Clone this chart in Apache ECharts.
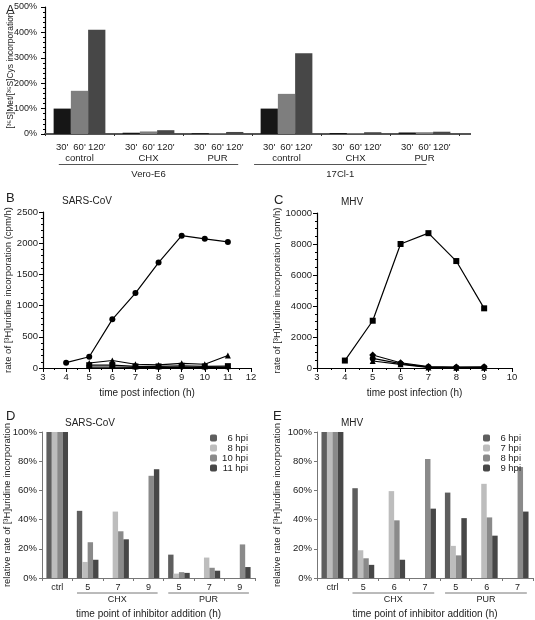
<!DOCTYPE html>
<html><head><meta charset="utf-8">
<script src="https://cdn.jsdelivr.net/npm/echarts@6/dist/echarts.min.js"></script>
<style>html,body{margin:0;padding:0;background:#fff}#c{width:535px;height:620px}</style>
</head><body><div id="c"></div>
<script>
// ---------- Panel A ----------
const aGroups = ['control','CHX','PUR','control','CHX','PUR'];
const aTimes = ["30'","60'","120'"];
const a30  = [100, 5, 3, 100, 4, 6];
const a60  = [170, 10, 3, 158, 3, 7];
const a120 = [410, 15, 8, 318, 7, 9];
const aCells = ['Vero-E6','17Cl-1'];

// ---------- Panel B (SARS-CoV) ----------
const bTime  = [4,5,6,7,8,9,10,11];
const bMain  = [85,180,780,1200,1690,2120,2070,2020];
const bTime2 = [5,6,7,8,9,10,11];
const bTri   = [80,120,60,50,75,60,200];
const bSq    = [45,45,25,25,35,25,30];
const bDia   = [15,15,10,10,10,10,10];

// ---------- Panel C (MHV) ----------
const cTime  = [4,5,6,7,8,9];
const cMain  = [480,3050,8000,8700,6900,3850];
const cTime2 = [5,6,7,8,9];
const cDia   = [840,340,90,60,80];
const cTri   = [450,240,40,20,20];
const cCirc  = [620,280,60,40,50];

// ---------- Panel D (SARS-CoV) ----------
const dCats  = ['ctrl','5','7','9','5','7','9'];
const dNames = ['6 hpi','8 hpi','10 hpi','11 hpi'];
const d6  = [100,46,0,0,16,0,0];
const d8  = [100,11,45.5,0,3,14,0];
const d10 = [100,24.5,32,70,4,7,23];
const d11 = [100,12.5,26.5,74.5,3.5,5,7.5];

// ---------- Panel E (MHV) ----------
const eCats  = ['ctrl','5','6','7','5','6','7'];
const eNames = ['6 hpi','7 hpi','8 hpi','9 hpi'];
const e6 = [100,61.5,0,0,58.5,0,0];
const e7 = [100,19,59.5,0,22,64.5,0];
const e8 = [100,13.5,39.5,81.5,15.5,41.5,76];
const e9 = [100,9,12.5,47.5,41,29,45.5];

const inhGroups = ['CHX','PUR'];

const FF = 'Liberation Sans, Arial, sans-serif';
const TXT = '#222';
const chart = echarts.init(document.getElementById('c'));

const lab = {fontFamily:FF, fontSize:9.5, color:TXT};
function valAxis(grid, min, max, interval, fmt, name, gap, minor, nfs){
  return {type:'value', gridIndex:grid, min, max, interval,
    axisLine:{show:true, lineStyle:{color:'#000', width:1.2}},
    axisTick:{show:true, length:4, lineStyle:{color:'#000'}},
    minorTick:{show:!!minor, splitNumber:minor||5, length:2, lineStyle:{color:'#000'}},
    splitLine:{show:false},
    axisLabel:Object.assign({formatter:fmt, margin:5}, lab),
    name, nameLocation:'middle', nameGap:gap, nameRotate:90, nameMoveOverlap:false,
    nameTextStyle:{fontFamily:FF, fontSize:nfs||9.5, color:TXT}};
}
const numFmt = v => String(v);
const dColors = ['#5e5e5e','#bdbdbd','#8a8a8a','#474747'];
const eColors = ['#5e5e5e','#bdbdbd','#8a8a8a','#474747'];

const lineCommon = {type:'line', symbolSize:6, showSymbol:true,
  lineStyle:{color:'#000', width:1.2}, itemStyle:{color:'#000'}};
const tStyle = (s)=>({fontSize:s, fontWeight:'normal', color:TXT, fontFamily:FF});
const legText = {fontFamily:FF, fontSize:9.5, color:TXT, rich:{r:{width:26, align:'right', lineHeight:11, fontFamily:FF, fontSize:9.5, color:TXT}}};

const yA = valAxis(0,0,500,100,'{value}%','[³⁵S]Met/[³⁵S]Cys incorporation',30,5,8.5);
yA.axisLabel.margin = 8;
yA.axisLabel.fontSize = 9;

const option = {
  animation:false,
  backgroundColor:'#fff',
  textStyle:{fontFamily:FF},
  title:[
    {text:'A', left:1, top:-1, textStyle:tStyle(13)},
    {text:'B', left:1, top:187, textStyle:tStyle(13)},
    {text:'C', left:269, top:189, textStyle:tStyle(13)},
    {text:'D', left:1, top:405, textStyle:tStyle(13)},
    {text:'E', left:268, top:405, textStyle:tStyle(13)},
    {text:'SARS-CoV', left:57, top:191, textStyle:tStyle(10)},
    {text:'MHV', left:336, top:192, textStyle:tStyle(10)},
    {text:'SARS-CoV', left:60, top:413, textStyle:tStyle(10)},
    {text:'MHV', left:336, top:413, textStyle:tStyle(10)}
  ],
  legend:[
    {data:dNames, orient:'vertical', left:205, top:428, itemWidth:7, itemHeight:7, itemGap:0,
     formatter:n=>'{r|'+n+'}', textStyle:legText, selectedMode:false},
    {data:eNames.map(n=>n+' '), orient:'vertical', left:478, top:428, itemWidth:7, itemHeight:7, itemGap:0,
     formatter:n=>'{r|'+n.trim()+'}', textStyle:legText, selectedMode:false}
  ],
  grid:[
    {left:45, top:7, width:414, height:127, outerBoundsMode:'none'},
    {left:43, top:212, width:208, height:156, outerBoundsMode:'none'},
    {left:317, top:213, width:195, height:155, outerBoundsMode:'none'},
    {left:42, top:432, width:213, height:146, outerBoundsMode:'none'},
    {left:317, top:432, width:216, height:146, outerBoundsMode:'none'}
  ],
  xAxis:[
    {type:'category', gridIndex:0, data:aGroups,
      axisLine:{lineStyle:{color:'#555', width:2}},
      axisTick:{show:true, length:2, lineStyle:{color:'#333'}},
      axisLabel:{interval:0, margin:8, fontFamily:FF, color:TXT,
        formatter:v=>aTimes.map(t=>'{t|'+t+'}').join('')+'\n{g|'+v+'}',
        rich:{t:{width:17.3, align:'center', fontSize:9.5, color:TXT, fontFamily:FF},
              g:{fontSize:9.5, color:TXT, fontFamily:FF, lineHeight:13}}}},
    {type:'value', gridIndex:1, min:3, max:12, interval:1,
      axisLine:{lineStyle:{color:'#000', width:1.2}},
      axisTick:{length:4, lineStyle:{color:'#000'}},
      minorTick:{show:true, splitNumber:2, length:2, lineStyle:{color:'#000'}},
      splitLine:{show:false}, axisLabel:Object.assign({margin:4, formatter:numFmt}, lab),
      name:'time post infection (h)', nameLocation:'middle', nameGap:20, nameMoveOverlap:false,
      nameTextStyle:{fontFamily:FF, fontSize:10, color:TXT}},
    {type:'value', gridIndex:2, min:3, max:10, interval:1,
      axisLine:{lineStyle:{color:'#000', width:1.2}},
      axisTick:{length:4, lineStyle:{color:'#000'}},
      minorTick:{show:true, splitNumber:2, length:2, lineStyle:{color:'#000'}},
      splitLine:{show:false}, axisLabel:Object.assign({margin:4, formatter:numFmt}, lab),
      name:'time post infection (h)', nameLocation:'middle', nameGap:20, nameMoveOverlap:false,
      nameTextStyle:{fontFamily:FF, fontSize:10, color:TXT}},
    {type:'category', gridIndex:3, data:dCats,
      axisLine:{lineStyle:{color:'#777', width:1}},
      axisTick:{show:true, length:3, lineStyle:{color:'#777'}},
      axisLabel:Object.assign({interval:0, margin:5}, lab, {fontSize:9})},
    {type:'category', gridIndex:4, data:eCats,
      axisLine:{lineStyle:{color:'#777', width:1}},
      axisTick:{show:true, length:3, lineStyle:{color:'#777'}},
      axisLabel:Object.assign({interval:0, margin:5}, lab, {fontSize:9})}
  ],
  yAxis:[
    yA,
    valAxis(1,0,2500,500,numFmt,'rate of [³H]uridine incorporation (cpm/h)',30,5),
    valAxis(2,0,10000,2000,numFmt,'rate of [³H]uridine incorporation (cpm/h)',35,4),
    Object.assign(valAxis(3,0,100,20,'{value}%','relative rate of [³H]uridine incorporation',30),
      {axisLine:{show:true,lineStyle:{color:'#777'}}, axisTick:{show:true,length:3,lineStyle:{color:'#777'}}}),
    Object.assign(valAxis(4,0,100,20,'{value}%','relative rate of [³H]uridine incorporation',35),
      {axisLine:{show:true,lineStyle:{color:'#777'}}, axisTick:{show:true,length:3,lineStyle:{color:'#777'}}})
  ],
  series:[
    {type:'bar', name:aTimes[0], xAxisIndex:0, yAxisIndex:0, data:a30, barGap:'0%', barCategoryGap:'25%', itemStyle:{color:'#161616'}},
    {type:'bar', name:aTimes[1], xAxisIndex:0, yAxisIndex:0, data:a60, barGap:'0%', barCategoryGap:'25%', itemStyle:{color:'#7e7e7e'}},
    {type:'bar', name:aTimes[2], xAxisIndex:0, yAxisIndex:0, data:a120, barGap:'0%', barCategoryGap:'25%', itemStyle:{color:'#474747'}},

    Object.assign({}, lineCommon, {name:'b-main', xAxisIndex:1, yAxisIndex:1, symbol:'circle', data:bTime.map((t,i)=>[t,bMain[i]])}),
    Object.assign({}, lineCommon, {name:'b-tri', xAxisIndex:1, yAxisIndex:1, symbol:'triangle', data:bTime2.map((t,i)=>[t,bTri[i]])}),
    Object.assign({}, lineCommon, {name:'b-sq', xAxisIndex:1, yAxisIndex:1, symbol:'rect', data:bTime2.map((t,i)=>[t,bSq[i]])}),
    Object.assign({}, lineCommon, {name:'b-dia', xAxisIndex:1, yAxisIndex:1, symbol:'diamond', data:bTime2.map((t,i)=>[t,bDia[i]])}),

    Object.assign({}, lineCommon, {name:'c-main', xAxisIndex:2, yAxisIndex:2, symbol:'rect', data:cTime.map((t,i)=>[t,cMain[i]])}),
    Object.assign({}, lineCommon, {name:'c-dia', xAxisIndex:2, yAxisIndex:2, symbol:'diamond', symbolSize:7, data:cTime2.map((t,i)=>[t,cDia[i]])}),
    Object.assign({}, lineCommon, {name:'c-tri', xAxisIndex:2, yAxisIndex:2, symbol:'triangle', data:cTime2.map((t,i)=>[t,cTri[i]])}),
    Object.assign({}, lineCommon, {name:'c-circ', xAxisIndex:2, yAxisIndex:2, symbol:'circle', data:cTime2.map((t,i)=>[t,cCirc[i]])}),

    ...[d6,d8,d10,d11].map((d,k)=>({type:'bar', name:dNames[k], xAxisIndex:3, yAxisIndex:3, data:d,
      barGap:'0%', barCategoryGap:'29%', itemStyle:{color:dColors[k]}})),
    ...[e6,e7,e8,e9].map((d,k)=>({type:'bar', name:eNames[k]+' ', xAxisIndex:4, yAxisIndex:4, data:d,
      barGap:'0%', barCategoryGap:'29%', itemStyle:{color:eColors[k]}}))
  ]
};
chart.setOption(option);

// group brackets computed from the axes
function cx(axis, idx){ return chart.convertToPixel({xAxisIndex:axis}, idx); }
const g = [];
function bracket(x1, x2, y, text, ty, color, fs){
  g.push({type:'line', shape:{x1, y1:y, x2, y2:y}, style:{stroke:color, lineWidth:1}, silent:true});
  g.push({type:'text', x:(x1+x2)/2, y:ty, style:{text, fill:TXT, font:fs+'px '+FF, textAlign:'center', textVerticalAlign:'middle'}, silent:true});
}
// Panel A
const aw = cx(0,1)-cx(0,0);
const aEnd = cx(0,5)+aw/2;
const aY0 = chart.convertToPixel({yAxisIndex:0}, 0);
g.push({type:'line', shape:{x1:aEnd, y1:aY0, x2:aEnd+12, y2:aY0}, style:{stroke:'#555', lineWidth:2}, silent:true});
bracket(cx(0,0)-0.3*aw, cx(0,2)+0.3*aw, 164.5, aCells[0], 174, '#555', 9.5);
bracket(cx(0,3)-0.47*aw, cx(0,5)+0.03*aw, 164.5, aCells[1], 174, '#555', 9.5);
// Panel D
const dw = cx(3,1)-cx(3,0);
bracket(cx(3,1)-0.35*dw, cx(3,3)+0.3*dw, 593, inhGroups[0], 600, '#777', 9);
bracket(cx(3,4)-0.35*dw, cx(3,6)+0.3*dw, 593, inhGroups[1], 600, '#777', 9);
g.push({type:'text', x:(cx(3,0)+cx(3,6))/2, y:614, style:{text:'time point of inhibitor addition (h)', fill:TXT, font:'10px '+FF, textAlign:'center', textVerticalAlign:'middle'}});
// Panel E
const ew = cx(4,1)-cx(4,0);
bracket(cx(4,1)-0.35*ew, cx(4,3)+0.3*ew, 593, inhGroups[0], 600, '#777', 9);
bracket(cx(4,4)-0.35*ew, cx(4,6)+0.3*ew, 593, inhGroups[1], 600, '#777', 9);
g.push({type:'text', x:(cx(4,0)+cx(4,6))/2, y:614, style:{text:'time point of inhibitor addition (h)', fill:TXT, font:'10px '+FF, textAlign:'center', textVerticalAlign:'middle'}});
chart.setOption({graphic:g});
</script></body></html>
